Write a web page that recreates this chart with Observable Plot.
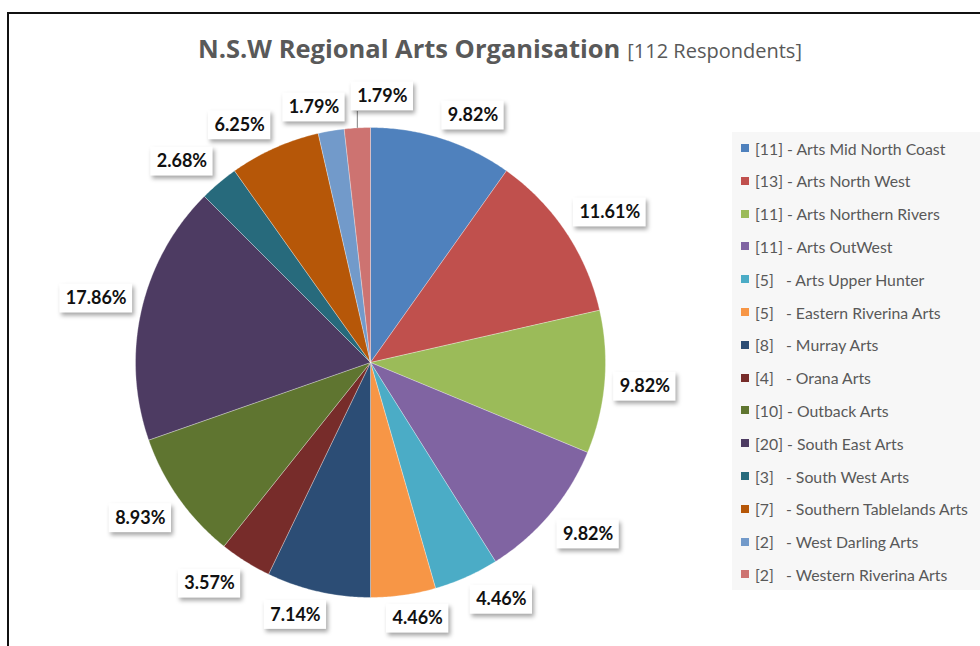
<!DOCTYPE html>
<html>
<head>
<meta charset="utf-8">
<script src="https://cdn.jsdelivr.net/npm/d3@7"></script>
<script src="https://cdn.jsdelivr.net/npm/@observablehq/plot@0.6"></script>
<style>
  html, body { margin: 0; padding: 0; background: #fff; overflow: hidden; }
  #wrap { position: relative; width: 980px; height: 646px; overflow: hidden; background: #fff; }
  #frame { position: absolute; left: 7px; top: 12px; width: 1000px; height: 700px;
           border-left: 2px solid #111; border-top: 2px solid #111; }
  #title { position: absolute; left: 0; top: 33px; width: 1000px; text-align: center;
           font-family: "Open Sans", Lato, sans-serif; color: #595959; line-height: 30px; white-space: nowrap; }
  #title .main { font-weight: bold; font-size: 25.5px; }
  #title .sub { font-size: 20px; margin-left: 7px; }
  #chart { position: absolute; left: 0; top: 0; }
  #legend { position: absolute; left: 732px; top: 132px; width: 270px; height: 458px;
            background: #f7f7f7; font-family: Lato, "Open Sans", sans-serif; font-size: 15.8px; color: #595959; }
  .item { position: absolute; left: 0; height: 20px; display: flex; align-items: center; white-space: pre; }
  .sw { width: 8px; height: 8px; margin-left: 9px; margin-right: 6px; }
</style>
</head>
<body>
<div id="wrap">
  <div id="frame"></div>
  <div id="chart"></div>
  <div id="title"><span class="main">N.S.W Regional Arts Organisation</span><span class="sub">[112 Respondents]</span></div>
  <div id="legend"></div>
</div>
<script>
// ---- data ----
const names = [
  "Arts Mid North Coast", "Arts North West", "Arts Northern Rivers", "Arts OutWest",
  "Arts Upper Hunter", "Eastern Riverina Arts", "Murray Arts", "Orana Arts",
  "Outback Arts", "South East Arts", "South West Arts", "Southern Tablelands Arts",
  "West Darling Arts", "Western Riverina Arts"
];
const counts = [11, 13, 11, 11, 5, 5, 8, 4, 10, 20, 3, 7, 2, 2];
const pctLabels = ["9.82%", "11.61%", "9.82%", "9.82%", "4.46%", "4.46%", "7.14%", "3.57%",
                   "8.93%", "17.86%", "2.68%", "6.25%", "1.79%", "1.79%"];
const colors = [
  "#4F81BD", "#C0504D", "#9BBB59", "#8064A2", "#4BACC6", "#F79646", "#2C4D75",
  "#772C2A", "#5F7530", "#4D3B62", "#276A7C", "#B65708", "#729ACA", "#CD7371"
];
const legendLabels = names.map((n, i) => `[${counts[i]}]` + (counts[i] >= 10 ? " - " : "   - ") + n);

// ---- layout ----
const R = 235, CX = 370, CY = 362;
const arcs = d3.pie().sort(null).value(d => d)(counts);

// slice polygons (unit circle coordinates, angle clockwise from top)
const slicePts = [];
arcs.forEach((a, i) => {
  const n = Math.max(2, Math.ceil((a.endAngle - a.startAngle) / (Math.PI / 360)));
  slicePts.push({name: names[i], x: 0, y: 0});
  for (let k = 0; k <= n; k++) {
    const t = a.startAngle + (a.endAngle - a.startAngle) * k / n;
    slicePts.push({name: names[i], x: Math.sin(t), y: Math.cos(t)});
  }
  slicePts.push({name: names[i], x: 0, y: 0});
});

// data labels (Excel "outside end" style)
const FS = 18;
const ctx = document.createElement("canvas").getContext("2d");
ctx.font = `bold ${FS}px Lato`;
const PAD = 6, BOXH = 29, GAP = 9, K = 3;
const clamp = v => Math.max(-1, Math.min(1, v));
const labels = arcs.map((a, i) => {
  const t = (a.startAngle + a.endAngle) / 2;
  const s = Math.sin(t), c = Math.cos(t);
  const w = ctx.measureText(pctLabels[i]).width + 2 * PAD;
  const ar = 1 + GAP / R;
  return {text: pctLabels[i], t, w,
          cx: ar * s + (w / 2) * clamp(K * s) / R,
          cy: ar * c + (BOXH / 2) * clamp(K * c) / R, moved: false};
});
const box = l => ({x1: l.cx - l.w / 2 / R, x2: l.cx + l.w / 2 / R, y1: l.cy - BOXH / 2 / R, y2: l.cy + BOXH / 2 / R});
for (let i = 1; i < labels.length; i++) {
  const p = box(labels[i - 1]), l = labels[i], b = box(l);
  if (b.x1 < p.x2 && b.x2 > p.x1 && b.y1 < p.y2 && b.y2 > p.y1) {
    l.cx += 8 / R * Math.sin(l.t);
    l.cy += 8 / R * Math.cos(l.t);
    if (Math.cos(l.t) > 0) l.cx = p.x2 + 6 / R + l.w / 2 / R;
    else l.cx = p.x1 - 6 / R - l.w / 2 / R;
    l.moved = true;
  }
}
labels.forEach(l => Object.assign(l, box(l)));
const leaders = labels.filter(l => l.moved).map(l => {
  const ex = Math.sin(l.t), ey = Math.cos(l.t);
  return {x1: ex, y1: ey,
          x2: Math.max(l.x1 + 6 / R, Math.min(l.x2, ex)),
          y2: Math.max(l.y1, Math.min(l.y2, ey))};
});

const chart = Plot.plot({
  width: 980, height: 646, margin: 0,
  x: {domain: [-1, 1], range: [CX - R, CX + R], axis: null},
  y: {domain: [-1, 1], range: [CY + R, CY - R], axis: null},
  color: {domain: names, range: colors},
  style: {background: "transparent", fontFamily: "Lato, sans-serif", overflow: "visible"},
  marks: [
    Plot.line(slicePts, {x: "x", y: "y", z: "name", fill: "name", stroke: "white",
                         strokeWidth: 0.6, strokeOpacity: 0.5, curve: "linear"}),
    Plot.link(leaders, {x1: "x1", y1: "y1", x2: "x2", y2: "y2", stroke: "#808080", strokeWidth: 1}),
    Plot.rect(labels, {x1: "x1", x2: "x2", y1: "y1", y2: "y2", fill: "white"}),
    Plot.text(labels, {x: "cx", y: "cy", text: "text", fontSize: FS, fontWeight: "bold", fill: "#111"})
  ]
});
const rg = chart.querySelector('g[aria-label="rect"]');
if (rg) rg.style.filter = "drop-shadow(2px 3px 2px rgba(0,0,0,0.35))";
document.getElementById("chart").appendChild(chart);

// legend
const leg = document.getElementById("legend");
legendLabels.forEach((t, i) => {
  const it = document.createElement("div");
  it.className = "item";
  it.style.top = (6 + i * 32.8) + "px";
  const sw = document.createElement("div");
  sw.className = "sw";
  sw.style.background = colors[i];
  const tx = document.createElement("span");
  tx.textContent = t;
  it.appendChild(sw); it.appendChild(tx);
  leg.appendChild(it);
});
</script>
</body>
</html>
